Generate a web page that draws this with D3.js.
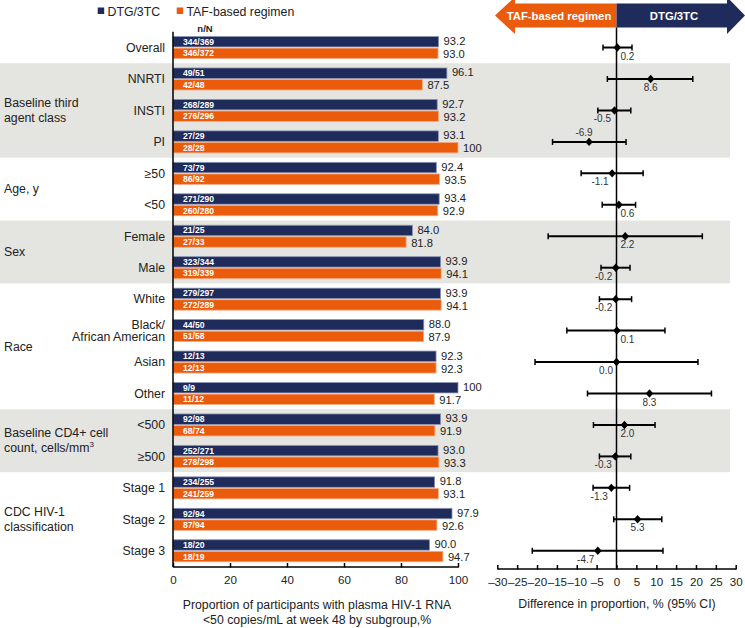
<!DOCTYPE html>
<html><head><meta charset="utf-8">
<script src="https://cdn.jsdelivr.net/npm/d3@7"></script>
<style>
body{margin:0;background:#fff;}
svg text{font-family:"Liberation Sans",Arial,Helvetica,sans-serif;}
</style></head>
<body><svg id="c" width="745" height="628"></svg>
<script>
const categories = ["Overall","NNRTI","INSTI","PI","≥50","<50","Female","Male","White","Black/|African American","Asian","Other","<500","≥500","Stage 1","Stage 2","Stage 3"];
const dtgPct = [93.2,96.1,92.7,93.1,92.4,93.4,84.0,93.9,93.9,88.0,92.3,100,93.9,93.0,91.8,97.9,90.0];
const tafPct = [93.0,87.5,93.2,100,93.5,92.9,81.8,94.1,94.1,87.9,92.3,91.7,91.9,93.3,93.1,92.6,94.7];
const dtgN = ["344/369","49/51","268/289","27/29","73/79","271/290","21/25","323/344","279/297","44/50","12/13","9/9","92/98","252/271","234/255","92/94","18/20"];
const tafN = ["346/372","42/48","276/296","28/28","86/92","260/280","27/33","319/339","272/289","51/58","12/13","11/12","68/74","278/298","241/259","87/94","18/19"];
const diff = [0.2,8.6,-0.5,-6.9,-1.1,0.6,2.2,-0.2,-0.2,0.1,0.0,8.3,2.0,-0.3,-1.3,5.3,-4.7];
const ciLow = [-3.4,-2.3,-4.7,-16.1,-8.9,-3.6,-17.2,-3.9,-4.3,-12.5,-20.5,-7.3,-5.8,-4.3,-5.9,-0.7,-21.2];
const ciHigh = [3.9,19.2,3.6,2.4,6.7,4.8,21.6,3.4,3.8,12.2,20.5,23.9,9.7,3.6,3.3,11.4,11.7];
const groupLabels = [["Baseline third","agent class"],["Age, y"],["Sex"],["Race"],["Baseline CD4+ cell","count, cells/mm|3"],["CDC HIV-1","classification"]];
const groupStart = [1,4,6,8,12,14];
const groupEnd = [3,5,7,11,13,16];
const groupShaded = [true,false,true,false,true,false];
const labelAboveRows = ["PI"];
const seriesNames = ["DTG/3TC","TAF-based regimen"];
const barTicks = [0,20,40,60,80,100];
const forestTicks = [-30,-25,-20,-15,-10,-5,0,5,10,15,20,25,30];

const NAVY = "#1f2b5a", ORANGE = "#ea5b0c", GRAY = "#e4e4e1", TXT = "#222";
const svg = d3.select("#c");
const n = categories.length;
const y = d3.scaleBand().domain(d3.range(n)).range([31.8, 566.5]);
const sub = d3.scaleBand().domain([0,1]).range([-11, 11]).paddingInner(0.1);
const xb = d3.scaleLinear().domain([0,100]).range([173,458]);
const xf = d3.scaleLinear().domain([-30,30]).range([497.3,735.7]);
const cy = i => y(i) + y.bandwidth()/2;

// shaded bands
groupLabels.forEach((g,k)=>{
  if(!groupShaded[k]) return;
  svg.append("rect").attr("x",0).attr("width",730)
    .attr("y",y(groupStart[k])).attr("height",y(groupEnd[k])+y.bandwidth()-y(groupStart[k]))
    .attr("fill",GRAY);
});

// legend
const lg = svg.append("g");
[[NAVY,97.7,107.5],[ORANGE,176.7,186.5]].forEach((p,i)=>{
  lg.append("rect").attr("x",p[1]).attr("y",7.5).attr("width",6.5).attr("height",6.5).attr("fill",p[0]);
  lg.append("text").attr("x",p[2]).attr("y",15.5).attr("font-size",12.3).attr("fill",TXT).text(seriesNames[i]);
});
svg.append("text").attr("x",205).attr("y",31.5).attr("text-anchor","middle").attr("font-size",9.5).attr("font-weight","bold").attr("fill",TXT).text("n/N");

// category labels
categories.forEach((c,i)=>{
  const lines = c.split("|");
  const t = svg.append("text").attr("x",165).attr("text-anchor","end").attr("font-size",12.3).attr("fill",TXT);
  lines.forEach((l,j)=>{
    t.append("tspan").attr("x",165).attr("y",cy(i)+4.3+(j-(lines.length-1)/2)*12.7).text(l);
  });
});
// group labels
groupLabels.forEach((g,k)=>{
  const mid = (cy(groupStart[k])+cy(groupEnd[k]))/2;
  g.forEach((l,j)=>{
    const t = svg.append("text").attr("x",4).attr("y",mid+4.3+(j-(g.length-1)/2)*15).attr("font-size",12.3).attr("fill",TXT);
    const parts = l.split("|");
    t.append("tspan").text(parts[0]);
    if(parts[1]) t.append("tspan").attr("font-size",8).attr("dy",-5).text(parts[1]);
  });
});

// bars
const fmt = v => v===100 ? "100" : v.toFixed(1);
[[dtgPct,dtgN,NAVY,"#8c94b3"],[tafPct,tafN,ORANGE,"#f6ad85"]].forEach((s,si)=>{
  const g = svg.append("g");
  s[0].forEach((v,i)=>{
    const yy = cy(i)+sub(si);
    g.append("rect").attr("x",xb(0)).attr("y",yy).attr("width",xb(v)-xb(0)).attr("height",sub.bandwidth())
      .attr("fill",s[2]).attr("stroke",s[3]).attr("stroke-width",0.8);
    g.append("text").attr("x",xb(0)+10).attr("y",yy+sub.bandwidth()/2+3).attr("font-size",8.6).attr("font-weight","bold")
      .attr("fill","#fff").text(s[1][i]);
    g.append("text").attr("x",xb(v)+5).attr("y",yy+sub.bandwidth()/2+4 + (si===0?-0.7:0.7)).attr("font-size",11.2).attr("fill",TXT).text(fmt(v));
  });
});

// bar axis
const axB = svg.append("g").attr("transform","translate(0,566.5)")
  .call(d3.axisBottom(xb).tickValues(barTicks).tickSize(0).tickPadding(9).tickFormat(d3.format("d")));
axB.select(".domain").attr("stroke","#000").attr("stroke-width",1.5);
axB.selectAll("text").attr("font-size",11.6).attr("fill",TXT).attr("font-family","Liberation Sans, Arial, sans-serif");
axB.selectAll(".tick").append("line").attr("y1",-3.5).attr("y2",1).attr("stroke","#000").attr("stroke-width",1.5);
svg.append("line").attr("x1",xb(0)).attr("x2",xb(0)).attr("y1",31.8).attr("y2",567).attr("stroke","#000").attr("stroke-width",1.5);
svg.append("text").attr("x",317).attr("y",608.5).attr("text-anchor","middle").attr("font-size",12.3).attr("fill",TXT).text("Proportion of participants with plasma HIV-1 RNA");
svg.append("text").attr("x",317).attr("y",624).attr("text-anchor","middle").attr("font-size",12.3).attr("fill",TXT).text("<50 copies/mL at week 48 by subgroup,%");

// forest axis
const axF = svg.append("g").attr("transform","translate(0,568.5)")
  .call(d3.axisBottom(xf).tickValues(forestTicks).tickSize(0).tickPadding(9).tickFormat(d=> d<0 ? "\u2013"+Math.abs(d) : d));
axF.select(".domain").attr("stroke","#000").attr("stroke-width",1.5);
axF.selectAll("text").attr("font-size",11.6).attr("fill",TXT).attr("font-family","Liberation Sans, Arial, sans-serif");
axF.selectAll(".tick").append("line").attr("y1",-3.5).attr("y2",1).attr("stroke","#000").attr("stroke-width",1.5);
svg.append("text").attr("x",617).attr("y",607.5).attr("text-anchor","middle").attr("font-size",12.3).attr("fill",TXT).text("Difference in proportion, % (95% CI)");

// arrows
const ay = 15.5, bh = 12, hh = 18.5;
svg.append("path").attr("fill",ORANGE).attr("d",
  `M${xf(0)},${ay-bh} L515,${ay-bh} L515,${ay-hh} L495,${ay} L515,${ay+hh} L515,${ay+bh} L${xf(0)},${ay+bh} Z`);
svg.append("path").attr("fill",NAVY).attr("d",
  `M${xf(0)},${ay-bh} L727,${ay-bh} L727,${ay-hh} L745,${ay} L727,${ay+hh} L727,${ay+bh} L${xf(0)},${ay+bh} Z`);
svg.append("text").attr("x",559).attr("y",ay+4).attr("text-anchor","middle").attr("font-size",11.3).attr("font-weight","bold").attr("fill","#fff").text(seriesNames[1]);
svg.append("text").attr("x",674).attr("y",ay+4).attr("text-anchor","middle").attr("font-size",11.3).attr("font-weight","bold").attr("fill","#fff").text(seriesNames[0]);

// zero line
svg.append("line").attr("x1",xf(0)).attr("x2",xf(0)).attr("y1",ay+bh).attr("y2",568.5).attr("stroke","#000").attr("stroke-width",1.5);

// forest points
const fg = svg.append("g");
diff.forEach((d,i)=>{
  const yy = cy(i);
  fg.append("line").attr("x1",xf(ciLow[i])).attr("x2",xf(ciHigh[i])).attr("y1",yy).attr("y2",yy).attr("stroke","#000").attr("stroke-width",2);
  [ciLow[i],ciHigh[i]].forEach(v=>fg.append("line").attr("x1",xf(v)).attr("x2",xf(v)).attr("y1",yy-3).attr("y2",yy+3).attr("stroke","#000").attr("stroke-width",1.5));
  const px = xf(d);
  fg.append("path").attr("d",`M${px},${yy-4.2} L${px+3.8},${yy} L${px},${yy+4.2} L${px-3.8},${yy} Z`).attr("fill","#000");
  const t = fg.append("text").attr("font-size",10).attr("fill","#333").text(d.toFixed(1));
  if(labelAboveRows.includes(categories[i])){
    t.attr("x",px-5).attr("y",yy-6).attr("text-anchor","middle");
  } else if(d<=0){
    t.attr("x",Math.min(px,xf(0))-3.5).attr("y",yy+12).attr("text-anchor","end");
  } else if(px-xf(0)<12){
    t.attr("x",xf(0)+4).attr("y",yy+12).attr("text-anchor","start");
  } else {
    t.attr("x",px).attr("y",yy+12).attr("text-anchor","middle");
  }
});
</script></body></html>
